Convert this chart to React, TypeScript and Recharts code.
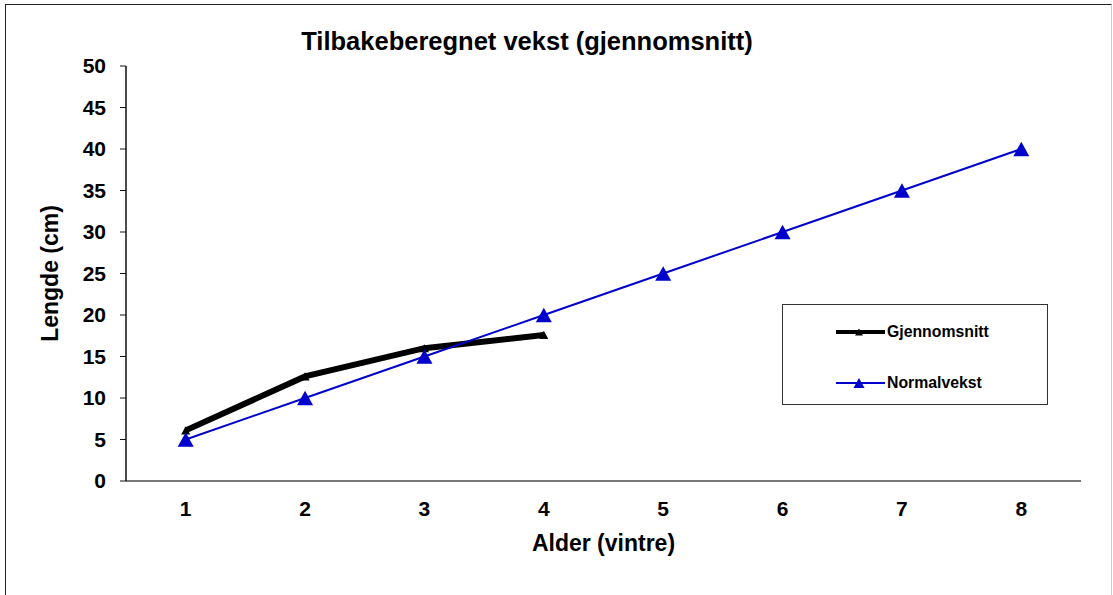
import { Line, LineChart, XAxis, YAxis } from "recharts";

const ages = [1, 2, 3, 4, 5, 6, 7, 8];
const gjennomsnitt = [6.1, 12.6, 16.0, 17.6];
const normalvekst = [5, 10, 15, 20, 25, 30, 35, 40];
const yTicks = [0, 5, 10, 15, 20, 25, 30, 35, 40, 45, 50];
const boundaryTicks = [0.5, 1.5, 2.5, 3.5, 4.5, 5.5, 6.5, 7.5, 8.5];

const data = ages.map((age, i) => ({
  age,
  gjennomsnitt: gjennomsnitt[i],
  normalvekst: normalvekst[i],
}));

const series = [
  { key: "gjennomsnitt", name: "Gjennomsnitt", color: "#000", width: 6, marker: 9, legendWidth: 4, legendMarker: 8 },
  { key: "normalvekst", name: "Normalvekst", color: "#0000cc", width: 2, marker: 16, legendWidth: 2, legendMarker: 11 },
];

const font = "'Liberation Sans', Arial, sans-serif";

function Triangle({ cx, cy, size, fill }: { cx?: number; cy?: number; size: number; fill: string }) {
  if (cx == null || cy == null) return null;
  const h = size * 0.9;
  return <path d={`M${cx},${cy - h / 2} L${cx + size / 2},${cy + h / 2} L${cx - size / 2},${cy + h / 2} Z`} fill={fill} />;
}

function LegendBox() {
  return (
    <div style={{ position: "absolute", left: 782, top: 304, width: 266, height: 101, border: "1px solid #333", background: "#fff", boxSizing: "border-box", paddingTop: 15 }}>
      {series.map((s, i) => (
        <div key={s.key} style={{ display: "flex", alignItems: "center", height: 24, marginBottom: i === 0 ? 27 : 0 }}>
          <svg width={104} height={14} style={{ flexShrink: 0 }}>
            <line x1={53} x2={102} y1={7} y2={7} stroke={s.color} strokeWidth={s.legendWidth} />
            <Triangle cx={76} cy={7} size={s.legendMarker} fill={s.color} />
          </svg>
          <span style={{ fontFamily: font, fontWeight: 700, fontSize: 15.8, color: "#000" }}>{s.name}</span>
        </div>
      ))}
    </div>
  );
}

export default function App() {
  return (
    <div style={{ position: "fixed", left: 0, top: 0, width: 1113, height: 595, background: "#fff", overflow: "hidden" }}>
      <div style={{ position: "absolute", left: 5, top: 4, width: 1107, height: 600, border: "1px solid #222", borderRightColor: "#ccc", boxSizing: "border-box" }} />
      <div style={{ position: "absolute", left: 0, width: 1054, top: 27, textAlign: "center", fontFamily: font, fontWeight: 700, fontSize: 25.5 }}>
        Tilbakeberegnet vekst (gjennomsnitt)
      </div>
      <div style={{ position: "absolute", left: 0, top: 0 }}>
        <LineChart width={1113} height={595} data={data} margin={{ top: 66, right: 32, bottom: 83, left: 66 }}>
          <XAxis
            dataKey="age"
            type="number"
            domain={[0.5, 8.5]}
            ticks={ages}
            interval={0}
            tickLine={false}
            axisLine={{ stroke: "#777", strokeWidth: 2 }}
            tick={{ fill: "#000", fontFamily: font, fontWeight: 700, fontSize: 21 }}
            tickMargin={14}
            label={{ value: "Alder (vintre)", position: "insideBottom", offset: -40, fill: "#000", fontFamily: font, fontWeight: 700, fontSize: 23 }}
          />
          <XAxis
            xAxisId="bounds"
            dataKey="age"
            type="number"
            domain={[0.5, 8.5]}
            ticks={boundaryTicks}
            interval={0}
            axisLine={false}
            tickLine={{ stroke: "#777", strokeWidth: 1.5 }}
            tickSize={7}
            tick={false}
            height={1}
          />
          <YAxis
            width={60}
            domain={[0, 50]}
            ticks={yTicks}
            interval={0}
            axisLine={{ stroke: "#111", strokeWidth: 1.5 }}
            tickLine={{ stroke: "#111" }}
            tickSize={6}
            tickMargin={14}
            tick={{ fill: "#000", fontFamily: font, fontWeight: 700, fontSize: 21 }}
            label={{ value: "Lengde (cm)", angle: -90, position: "insideLeft", offset: -16, fill: "#000", fontFamily: font, fontWeight: 700, fontSize: 23, style: { textAnchor: "middle" } }}
          />
          {series.map((s) => (
            <Line
              key={s.key}
              name={s.name}
              dataKey={s.key}
              stroke={s.color}
              strokeWidth={s.width}
              dot={(p: any) => <Triangle key={p.index} cx={p.cx} cy={p.cy} size={s.marker} fill={s.color} />}
              activeDot={false}
              isAnimationActive={false}
            />
          ))}
        </LineChart>
      </div>
      <LegendBox />
    </div>
  );
}
